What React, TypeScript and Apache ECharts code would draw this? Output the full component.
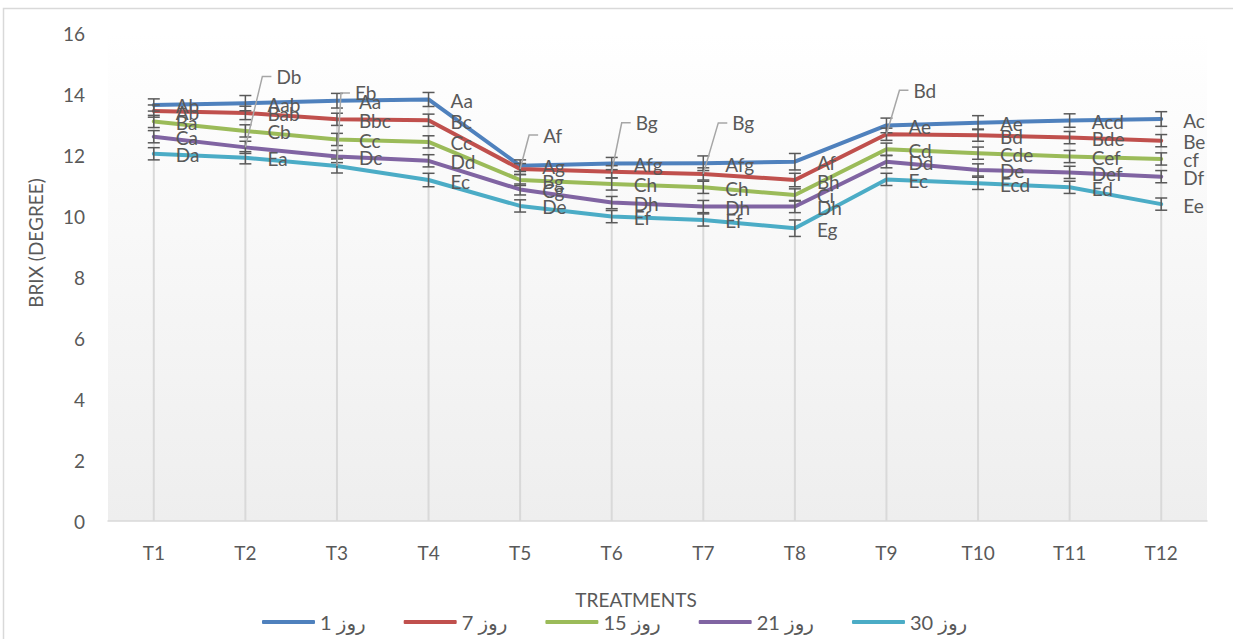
import React, { useEffect, useRef } from "react";
import * as echarts from "echarts";

const categories = ["T1", "T2", "T3", "T4", "T5", "T6", "T7", "T8", "T9", "T10", "T11", "T12"];
const seriesNames = ["روز 1", "روز 7", "روز 15", "روز 21", "روز 30"];

const day1 = [13.64, 13.7, 13.78, 13.82, 11.65, 11.72, 11.73, 11.78, 12.97, 13.06, 13.13, 13.18];
const day7 = [13.44, 13.38, 13.17, 13.14, 11.54, 11.45, 11.38, 11.18, 12.68, 12.65, 12.57, 12.47];
const day15 = [13.1, 12.79, 12.51, 12.43, 11.18, 11.05, 10.94, 10.69, 12.19, 12.06, 11.95, 11.87];
const day21 = [12.6, 12.25, 11.95, 11.81, 10.87, 10.44, 10.31, 10.31, 11.78, 11.51, 11.43, 11.29];
const day30 = [12.04, 11.91, 11.64, 11.18, 10.33, 9.98, 9.87, 9.6, 11.2, 11.07, 10.94, 10.39];

const err1 = [0.2, 0.25, 0.24, 0.23, 0.19, 0.2, 0.24, 0.27, 0.24, 0.23, 0.22, 0.24];
const err7 = [0.2, 0.22, 0.2, 0.2, 0.18, 0.2, 0.2, 0.22, 0.2, 0.2, 0.2, 0.2];
const err15 = [0.2, 0.2, 0.2, 0.2, 0.18, 0.2, 0.2, 0.2, 0.2, 0.2, 0.2, 0.2];
const err21 = [0.2, 0.2, 0.2, 0.2, 0.18, 0.2, 0.2, 0.2, 0.2, 0.2, 0.2, 0.2];
const err30 = [0.2, 0.2, 0.23, 0.22, 0.2, 0.2, 0.2, 0.27, 0.2, 0.2, 0.2, 0.2];

const lab1 = ["Ab", "Aab", "Aa", "Aa", "Ag", "Afg", "Afg", "Af", "Ae", "Ae", "Acd", "Ac"];
const lab7 = ["Ab", "Bab", "Bbc", "Bc", "Af", "Bg", "Bg", "Bh", "Bd", "Bd", "Bde", "Be"];
const lab15 = ["Ba", "Cb", "Cc", "Cc", "Bg", "Ch", "Ch", "Ci", "Cd", "Cde", "Cef", "cf"];
const lab21 = ["Ca", "Db", "Dc", "Dd", "Cg", "Dh", "Dh", "Dh", "Dd", "De", "Def", "Df"];
const lab30 = ["Da", "Ea", "Eb", "Ec", "De", "Ef", "Ef", "Eg", "Ec", "Ecd", "Ed", "Ee"];

const yMin = 0;
const yMax = 16;
const yInterval = 2;

const values = [day1, day7, day15, day21, day30];
const errors = [err1, err7, err15, err21, err30];
const labels = [lab1, lab7, lab15, lab21, lab30];

// label layout offsets (pixels) for labels moved away with a leader line
const movedLabels: Record<string, [number, number]> = {
  "1-4": [23, -34],
  "1-5": [24, -49],
  "1-6": [29, -51],
  "1-8": [27, -44],
  "3-1": [31, -71],
  "4-2": [18, -73],
};

const COLORS = ["#4F81BD", "#C0504D", "#9BBB59", "#8064A2", "#4BACC6"];
const FONT = "Lato, 'DejaVu Sans', sans-serif";
const TEXT = "#595959";

export default function App() {
  const ref = useRef<HTMLDivElement>(null);

  useEffect(() => {
    if (!ref.current) return;
    const chart = echarts.init(ref.current, undefined, { renderer: "svg" });

    const errRecs: { i: number; v: number; e: number }[] = [];
    const labRecs: { i: number; v: number; text: string; moved?: [number, number] }[] = [];
    values.forEach((arr, s) => {
      arr.forEach((v, i) => {
        errRecs.push({ i, v, e: errors[s][i] });
        labRecs.push({ i, v, text: labels[s][i], moved: movedLabels[`${s}-${i}`] });
      });
    });
    const tops = categories.map((_, i) => Math.max(...values.map((a) => a[i])));

    const lineSeries = values.map((arr, s) => ({
      name: seriesNames[s],
      type: "line",
      data: arr,
      showSymbol: false,
      symbol: "none",
      lineStyle: { color: COLORS[s], width: 4, cap: "round", join: "round" },
      itemStyle: { color: COLORS[s] },
      z: 3,
      silent: true,
    }));

    const option: any = {
      animation: false,
      backgroundColor: "#ffffff",
      textStyle: { fontFamily: FONT },
      grid: {
        left: 108,
        right: 26,
        top: 33,
        bottom: 639 - 521,
        show: true,
        borderWidth: 0,
        backgroundColor: new echarts.graphic.LinearGradient(0, 0, 0, 1, [
          { offset: 0, color: "#ffffff" },
          { offset: 1, color: "#eeeeee" },
        ]),
      },
      xAxis: {
        type: "category",
        data: categories,
        boundaryGap: true,
        axisLine: { show: true, lineStyle: { color: "#d9d9d9", width: 1.5 } },
        axisTick: { show: false },
        axisLabel: { color: TEXT, fontSize: 19, fontFamily: FONT, margin: 22 },
        splitLine: { show: false },
      },
      yAxis: {
        type: "value",
        min: yMin,
        max: yMax,
        interval: yInterval,
        axisLine: { show: false },
        axisTick: { show: false },
        splitLine: { show: false },
        axisLabel: { color: TEXT, fontSize: 19, fontFamily: FONT, margin: 23 },
      },
      legend: {
        data: seriesNames,
        left: 257,
        top: 607,
        icon: "roundRect",
        itemWidth: 53,
        itemHeight: 4,
        itemGap: 38,
        textStyle: { color: TEXT, fontSize: 20, fontFamily: FONT },
      },
      graphic: [
        {
          type: "rect",
          shape: { x: 3.5, y: 8.5, width: 1300, height: 700 },
          style: { fill: "none", stroke: "#d9d9d9", lineWidth: 1.5 },
          z: 0,
          silent: true,
        },
        {
          type: "text",
          x: 35,
          y: 243,
          rotation: Math.PI / 2,
          style: {
            text: "BRIX (DEGREE)",
            fill: TEXT,
            fontSize: 19,
            fontFamily: FONT,
            align: "center",
            verticalAlign: "middle",
          },
          silent: true,
        },
        {
          type: "text",
          x: 636,
          y: 599,
          style: {
            text: "TREATMENTS",
            fill: TEXT,
            fontSize: 19,
            fontFamily: FONT,
            align: "center",
            verticalAlign: "middle",
          },
          silent: true,
        },
      ],
      series: [
        {
          name: "drop",
          type: "custom",
          data: tops.map((v, i) => [i, v]),
          encode: { x: 0, y: 1 },
          z: 1,
          silent: true,
          renderItem: (params: any, api: any) => {
            const p = api.coord([api.value(0), api.value(1)]);
            const b = api.coord([api.value(0), 0]);
            return {
              type: "line",
              shape: { x1: p[0], y1: p[1], x2: b[0], y2: b[1] },
              style: { stroke: "#d9d9d9", lineWidth: 2 },
            };
          },
        },
        ...lineSeries,
        {
          name: "errors",
          type: "custom",
          data: errRecs.map((r) => [r.i, r.v, r.e]),
          encode: { x: 0, y: 1 },
          z: 4,
          silent: true,
          renderItem: (params: any, api: any) => {
            const x = api.value(0);
            const v = api.value(1);
            const e = api.value(2);
            const t = api.coord([x, v + e]);
            const b = api.coord([x, v - e]);
            const w = 6;
            const st = { stroke: "#595959", lineWidth: 1.5 };
            return {
              type: "group",
              children: [
                { type: "line", shape: { x1: t[0], y1: t[1], x2: b[0], y2: b[1] }, style: st },
                { type: "line", shape: { x1: t[0] - w, y1: t[1], x2: t[0] + w, y2: t[1] }, style: st },
                { type: "line", shape: { x1: b[0] - w, y1: b[1], x2: b[0] + w, y2: b[1] }, style: st },
              ],
            };
          },
        },
        {
          name: "labels",
          type: "custom",
          data: labRecs.map((r) => [r.i, r.v]),
          encode: { x: 0, y: 1 },
          z: 5,
          silent: true,
          renderItem: (params: any, api: any) => {
            const rec = labRecs[params.dataIndex];
            const p = api.coord([api.value(0), api.value(1)]);
            let lx = p[0] + 22;
            let ly = p[1] + 1;
            const children: any[] = [];
            if (rec.moved) {
              lx = p[0] + rec.moved[0];
              ly = p[1] + rec.moved[1];
              children.push({
                type: "polyline",
                shape: { points: [[p[0], p[1]], [lx - 14, ly], [lx - 5, ly]] },
                style: { stroke: "#a6a6a6", lineWidth: 1.5, fill: "none" },
              });
            }
            children.push({
              type: "text",
              x: lx,
              y: ly,
              style: {
                text: rec.text,
                fill: TEXT,
                fontSize: 19,
                fontFamily: FONT,
                align: "left",
                verticalAlign: "middle",
              },
            });
            return { type: "group", children };
          },
        },
      ],
    };

    chart.setOption(option);
    return () => chart.dispose();
  }, []);

  return (
    <div
      ref={ref}
      style={{ position: "fixed", left: 0, top: 0, width: 1233, height: 639, background: "#fff" }}
    />
  );
}
